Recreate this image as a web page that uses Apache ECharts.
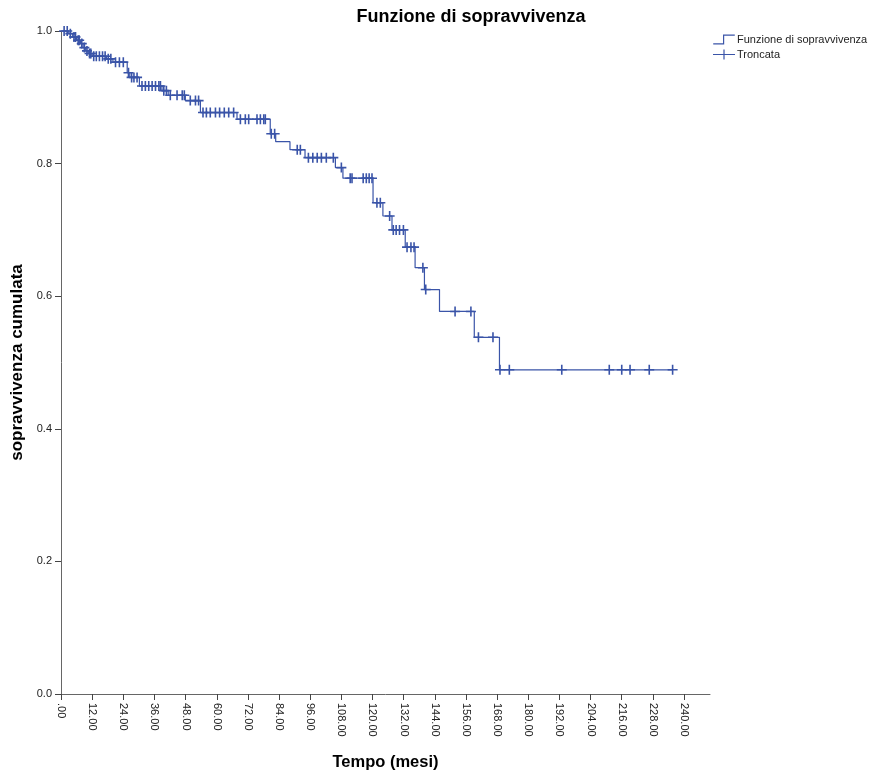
<!DOCTYPE html>
<html>
<head>
<meta charset="utf-8">
<script src="https://cdn.jsdelivr.net/npm/echarts@6/dist/echarts.min.js"></script>
<style>
html,body{margin:0;padding:0;background:#fff;}
#chart{width:890px;height:774px;}
</style>
</head>
<body>
<div id="chart"></div>
<script>
// Kaplan-Meier step points (event times, survival after event)
const stepTimes = [0, 3, 4.5, 6, 7.5, 8.5, 9.5, 10.5, 12, 17.5, 20, 25.5, 26.5, 30.2, 38.9, 41.3, 47.9, 53.7, 67.8, 80.6, 82.7, 88.2, 94, 105.7, 108.6, 120.2, 124, 127.5, 132.6, 136.4, 140, 145.8, 159.2, 168.9, 235.6];
const stepSurv  = [1.0, 0.996, 0.991, 0.986, 0.981, 0.975, 0.970, 0.966, 0.962, 0.958, 0.953, 0.937, 0.930, 0.917, 0.910, 0.903, 0.895, 0.877, 0.867, 0.845, 0.833, 0.821, 0.809, 0.794, 0.778, 0.741, 0.721, 0.700, 0.674, 0.643, 0.610, 0.577, 0.538, 0.489, 0.489];
// Censored observations
const censorTimes = [1.2, 2.4, 3.6, 5.0, 5.6, 6.6, 7.0, 8.0, 9.0, 10.0, 11.0, 11.5, 12.6, 13.6, 14.8, 16.0, 17.0, 18.2, 19.2, 21.0, 22.5, 24.0, 26.0, 27.2, 28.1, 29.3,
  31.2, 32.5, 33.8, 35.1, 36.4, 37.7, 38.3, 39.6, 40.6, 42.1, 44.7, 46.7, 47.5, 49.8, 51.8, 53.0,
  54.7, 56.0, 57.5, 59.5, 61.1, 62.9, 64.6, 66.5, 69.1, 71.0, 72.3, 75.5, 76.8, 78.1, 78.7, 81.0, 82.3,
  91.0, 92.2, 95.3, 97.0, 98.7, 100.3, 102.2, 104.9, 108.0, 111.4, 112.1, 116.4, 117.6, 118.7, 119.8,
  121.7, 123.0, 126.6, 128.0, 129.1, 130.4, 131.9, 133.3, 134.8, 136.0, 139.4, 140.5, 151.8, 157.9, 160.8, 166.4,
  169.1, 172.7, 192.9, 211.2, 216.0, 219.2, 226.6, 235.6];
const censorSurv = [1.0, 1.0, 0.996, 0.991, 0.991, 0.986, 0.986, 0.981, 0.975, 0.970, 0.966, 0.966, 0.962, 0.962, 0.962, 0.962, 0.962, 0.958, 0.958, 0.953, 0.953, 0.953, 0.937, 0.930, 0.930, 0.930,
  0.917, 0.917, 0.917, 0.917, 0.917, 0.917, 0.917, 0.910, 0.910, 0.903, 0.903, 0.903, 0.903, 0.895, 0.895, 0.895,
  0.877, 0.877, 0.877, 0.877, 0.877, 0.877, 0.877, 0.877, 0.867, 0.867, 0.867, 0.867, 0.867, 0.867, 0.867, 0.845, 0.845,
  0.821, 0.821, 0.809, 0.809, 0.809, 0.809, 0.809, 0.809, 0.794, 0.778, 0.778, 0.778, 0.778, 0.778, 0.778,
  0.741, 0.741, 0.721, 0.700, 0.700, 0.700, 0.700, 0.674, 0.674, 0.674, 0.643, 0.610, 0.577, 0.577, 0.538, 0.538,
  0.489, 0.489, 0.489, 0.489, 0.489, 0.489, 0.489, 0.489];
const xTicks = [0, 12, 24, 36, 48, 60, 72, 84, 96, 108, 120, 132, 144, 156, 168, 180, 192, 204, 216, 228, 240];
const yTicks = [0, 0.2, 0.4, 0.6, 0.8, 1.0];

const lineColor = '#3a54a8';
const plusPath = 'path://M4.2,0H5.8V4.2H10V5.8H5.8V10H4.2V5.8H0V4.2H4.2Z';
const stepIcon = 'path://M0,9H10V0H22V1.2H11.2V10.2H0Z';
const plusIcon = 'path://M10.4,0H11.6V4.4H22V5.6H11.6V10H10.4V5.6H0V4.4H10.4Z';

const chart = echarts.init(document.getElementById('chart'), null, {renderer: 'canvas'});
chart.setOption({
  backgroundColor: '#ffffff',
  animation: false,
  textStyle: {fontFamily: 'Liberation Sans, Arial, sans-serif'},
  title: {
    text: 'Funzione di sopravvivenza',
    left: 466, top: 3, textAlign: 'center',
    textStyle: {fontSize: 18, fontWeight: 'bold', color: '#000', fontFamily: 'Liberation Sans, Arial, sans-serif'}
  },
  legend: {
    orient: 'vertical', left: 708, top: 29,
    itemWidth: 22, itemHeight: 10, itemGap: 4,
    textStyle: {fontSize: 11, color: '#222', padding: [0, 0, 0, -3]},
    data: [
      {name: 'Funzione di sopravvivenza', icon: stepIcon},
      {name: 'Troncata', icon: plusIcon}
    ]
  },
  grid: {left: 61, right: 180, top: 31, bottom: 80, outerBoundsMode: 'none', containLabel: false},
  xAxis: {
    type: 'value', min: 0, max: 250,
    name: 'Tempo (mesi)', nameLocation: 'middle', nameGap: 60,
    nameTextStyle: {fontSize: 16.5, fontWeight: 'bold', color: '#000'},
    axisLine: {lineStyle: {color: '#666', width: 1}},
    axisTick: {show: true, length: 6, lineStyle: {color: '#444'}, customValues: xTicks},
    axisLabel: {
      customValues: xTicks, rotate: -90, margin: 9, fontSize: 11, color: '#222',
      formatter: v => v === 0 ? '.00' : v.toFixed(2)
    },
    splitLine: {show: false}
  },
  yAxis: {
    type: 'value', min: 0, max: 1, interval: 0.2,
    name: 'sopravvivenza cumulata', nameLocation: 'middle', nameGap: 34,
    nameTextStyle: {fontSize: 17, fontWeight: 'bold', color: '#000'},
    axisLine: {show: true, lineStyle: {color: '#666', width: 1}},
    axisTick: {show: true, length: 6, lineStyle: {color: '#444'}},
    axisLabel: {fontSize: 11, color: '#222', margin: 9, formatter: v => v.toFixed(1)},
    splitLine: {show: false}
  },
  series: [
    {
      name: 'Funzione di sopravvivenza', type: 'line', step: 'end',
      data: stepTimes.map((t, i) => [t, stepSurv[i]]),
      showSymbol: false, symbol: 'none',
      lineStyle: {color: lineColor, width: 1.2},
      itemStyle: {color: lineColor}
    },
    {
      name: 'Troncata', type: 'scatter',
      data: censorTimes.map((t, i) => [t, censorSurv[i]]),
      symbol: plusPath, symbolSize: 10,
      itemStyle: {color: lineColor, opacity: 1}
    }
  ]
});
</script>
</body>
</html>
